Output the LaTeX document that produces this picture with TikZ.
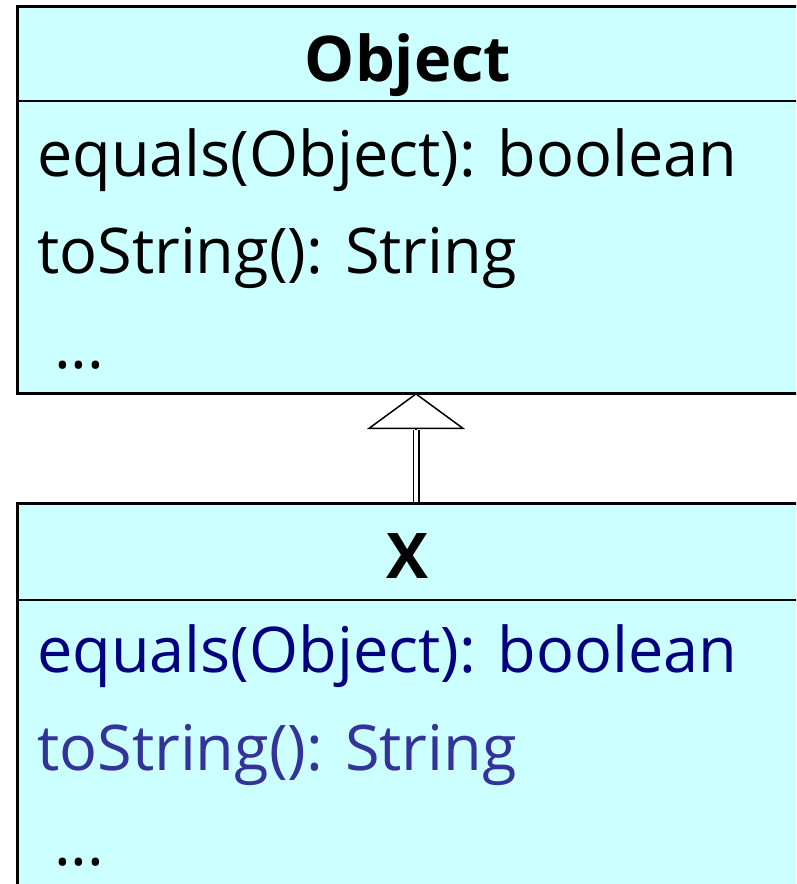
\documentclass[tikz,border=0pt]{standalone}
\usepackage{fontspec}
\setmainfont{Open Sans}
\usetikzlibrary{arrows.meta}
\definecolor{boxfill}{HTML}{CCFFFF}
\definecolor{navyA}{HTML}{000080}
\definecolor{navyB}{HTML}{333399}
\tikzset{
  umlbox/.style={draw=black, fill=boxfill, line width=2.5pt, rectangle, inner sep=0pt, anchor=north west},
  divider/.style={draw=black, line width=2.5pt},
  member/.style={anchor=base west, inner sep=0pt, font=\fontsize{63}{70}\selectfont},
  title/.style={anchor=base, inner sep=0pt, font=\fontsize{63}{70}\selectfont\bfseries},
  stem/.style={draw=black, line width=1.5pt, double=white, double distance=4pt},
  tip/.style={line width=1.5pt, -{Triangle[open, fill=white, length=36pt, width=98pt]}}
}
\begin{document}
\begin{tikzpicture}[x=1pt,y=-1pt]
\useasboundingbox (0,0) rectangle (796,884);
\clip (0,0) rectangle (796,884);
% Object class
\node[umlbox, minimum width=820pt, minimum height=387pt] (obj) at (16,5) {};
\draw[divider] (16,101) -- (840,101);
\node[title] (objname) at (408,81) {Object};
\node[member] (objeq) at (37,176) {equals(Object): boolean};
\node[member] (objts) at (37,273) {toString(): String};
\node[member] (objdots) at (54,368) {...};
% X class
\node[umlbox, minimum width=820pt, minimum height=420pt] (x) at (16,502) {};
\draw[divider] (16,600) -- (840,600);
\node[title] (xname) at (408,578) {X};
\node[member, text=navyA] (xeq) at (37,672) {equals(Object): boolean};
\node[member, text=navyB] (xts) at (37,770) {toString(): String};
\node[member] (xdots) at (54,865) {...};
% generalization
\coordinate (xtop) at (416,502);
\coordinate (objbot) at (416,393);
\coordinate (tipbase) at (416,430);
\draw[stem] (xtop) -- (tipbase);
\draw[tip] (tipbase) -- (objbot);
\end{tikzpicture}
\end{document}
